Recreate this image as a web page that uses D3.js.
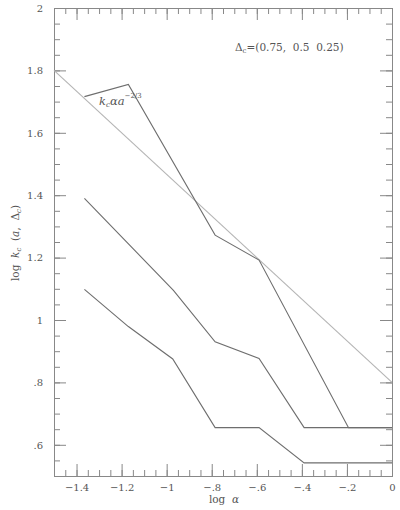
<!DOCTYPE html>
<html>
<head>
<meta charset="utf-8">
<script src="https://cdn.jsdelivr.net/npm/d3@7"></script>
<style>
  html, body { margin: 0; padding: 0; background: #fff; }
  svg { display: block; }
  text { font-family: "DejaVu Serif", "Liberation Serif", serif; fill: #555; white-space: pre; }
</style>
</head>
<body>
<script>
// ---- data ----
const xDomain = [-1.5, 0];
const yDomain = [0.5, 2];
const xTickValues = [-1.4, -1.2, -1.0, -0.8, -0.6, -0.4, -0.2, 0];
const xTickLabels = ["\u22121.4", "\u22121.2", "\u22121", "\u2212.8", "\u2212.6", "\u2212.4", "\u2212.2", "0"];
const yTickValues = [0.6, 0.8, 1.0, 1.2, 1.4, 1.6, 1.8, 2.0];
const yTickLabels = [".6", ".8", "1", "1.2", "1.4", "1.6", "1.8", "2"];

// series: log a (x) and log k_c (y) for Delta_c = 0.75, 0.5, 0.25
const seriesX075 = [-1.365, -1.17, -0.785, -0.59, -0.193, 0];
const seriesY075 = [1.716, 1.755, 1.272, 1.192, 0.655, 0.655];
const seriesX050 = [-1.365, -0.97, -0.785, -0.59, -0.39, 0];
const seriesY050 = [1.39, 1.095, 0.930, 0.877, 0.655, 0.655];
const seriesX025 = [-1.365, -1.17, -0.973, -0.785, -0.59, -0.39, 0];
const seriesY025 = [1.098, 0.979, 0.875, 0.655, 0.655, 0.542, 0.542];
// reference line k_c ∝ a^{-2/3}
const refX = [-1.5, 0];
const refY = [1.8, 0.8];

// ---- layout ----
const W = 400, H = 510;
const L = 54, R = 392, T = 8, B = 476;

const svg = d3.select("body").append("svg").attr("width", W).attr("height", H);

const x = d3.scaleLinear().domain(xDomain).range([L, R]);
const y = d3.scaleLinear().domain(yDomain).range([B, T]);

const axisColor = "#888";
const xMinor = d3.range(-1.5, 0.0001, 0.05).map(v => +v.toFixed(2));
const yMinor = d3.range(0.5, 2.0001, 0.05).map(v => +v.toFixed(2));

function styleAxis(g) {
  g.select(".domain").attr("stroke", axisColor).attr("stroke-width", 1);
  g.selectAll(".tick line").attr("stroke", axisColor).attr("stroke-width", 1);
  g.selectAll(".tick text").attr("fill", "#555")
    .style("font-family", '"DejaVu Serif", serif').style("font-size", "10px");
}

// bottom
svg.append("g").attr("transform", `translate(0,${B})`)
  .call(d3.axisBottom(x).tickValues(xMinor).tickSize(-6).tickFormat(""))
  .call(styleAxis);
svg.append("g").attr("transform", `translate(0,${B})`)
  .call(d3.axisBottom(x).tickValues(xTickValues).tickSize(-12).tickPadding(8)
    .tickFormat((d, i) => xTickLabels[i]))
  .call(styleAxis);
// top
svg.append("g").attr("transform", `translate(0,${T})`)
  .call(d3.axisTop(x).tickValues(xMinor).tickSize(-6).tickFormat(""))
  .call(styleAxis);
svg.append("g").attr("transform", `translate(0,${T})`)
  .call(d3.axisTop(x).tickValues(xTickValues).tickSize(-12).tickFormat(""))
  .call(styleAxis);
// left
svg.append("g").attr("transform", `translate(${L},0)`)
  .call(d3.axisLeft(y).tickValues(yMinor).tickSize(-6).tickFormat(""))
  .call(styleAxis);
svg.append("g").attr("transform", `translate(${L},0)`)
  .call(d3.axisLeft(y).tickValues(yTickValues).tickSize(-12).tickPadding(11)
    .tickFormat((d, i) => yTickLabels[i]))
  .call(styleAxis);
// right
svg.append("g").attr("transform", `translate(${R},0)`)
  .call(d3.axisRight(y).tickValues(yMinor).tickSize(-6).tickFormat(""))
  .call(styleAxis);
svg.append("g").attr("transform", `translate(${R},0)`)
  .call(d3.axisRight(y).tickValues(yTickValues).tickSize(-12).tickFormat(""))
  .call(styleAxis);

// lines
const line = d3.line().x(d => x(d[0])).y(d => y(d[1]));
const zip = (a, b) => a.map((v, i) => [v, b[i]]);

svg.append("path").datum(zip(refX, refY)).attr("d", line)
  .attr("fill", "none").attr("stroke", "#b4b4b4").attr("stroke-width", 1.1);

[[seriesX075, seriesY075], [seriesX050, seriesY050], [seriesX025, seriesY025]].forEach(([sx, sy]) => {
  svg.append("path").datum(zip(sx, sy)).attr("d", line)
    .attr("fill", "none").attr("stroke", "#6e6e6e").attr("stroke-width", 1.1);
});

// annotations
const t1 = svg.append("text").attr("x", 235).attr("y", 51).style("font-size", "10.5px");
t1.append("tspan").text("\u0394");
t1.append("tspan").attr("dy", 2).style("font-size", "7px").text("c");
t1.append("tspan").attr("dy", -2).text("=(0.75,  0.5  0.25)");

const t2 = svg.append("text").attr("x", 99).attr("y", 105).style("font-size", "11.5px");
t2.append("tspan").style("font-style", "italic").text("k");
t2.append("tspan").attr("dy", 2).style("font-size", "7px").style("font-style", "italic").text("c");
t2.append("tspan").attr("dy", -2).style("font-style", "italic").text("\u03b1a");
t2.append("tspan").attr("dy", -7).style("font-size", "7px").text("\u22122/3");

// axis titles
const xt = svg.append("text").attr("x", 224).attr("y", 503).attr("text-anchor", "middle")
  .style("font-size", "10.5px");
xt.append("tspan").text("log  ");
xt.append("tspan").style("font-style", "italic").text("\u03b1");

const yt = svg.append("text").attr("transform", "translate(19,243) rotate(-90)")
  .attr("text-anchor", "middle").style("font-size", "10.5px");
yt.append("tspan").text("log  ");
yt.append("tspan").style("font-style", "italic").text("k");
yt.append("tspan").attr("dy", 2).style("font-size", "7px").style("font-style", "italic").text("c");
yt.append("tspan").attr("dy", -2).text("  (");
yt.append("tspan").style("font-style", "italic").text("a");
yt.append("tspan").text(",  \u0394");
yt.append("tspan").attr("dy", 2).style("font-size", "7px").style("font-style", "italic").text("c");
yt.append("tspan").attr("dy", -2).text(")");
</script>
</body>
</html>
